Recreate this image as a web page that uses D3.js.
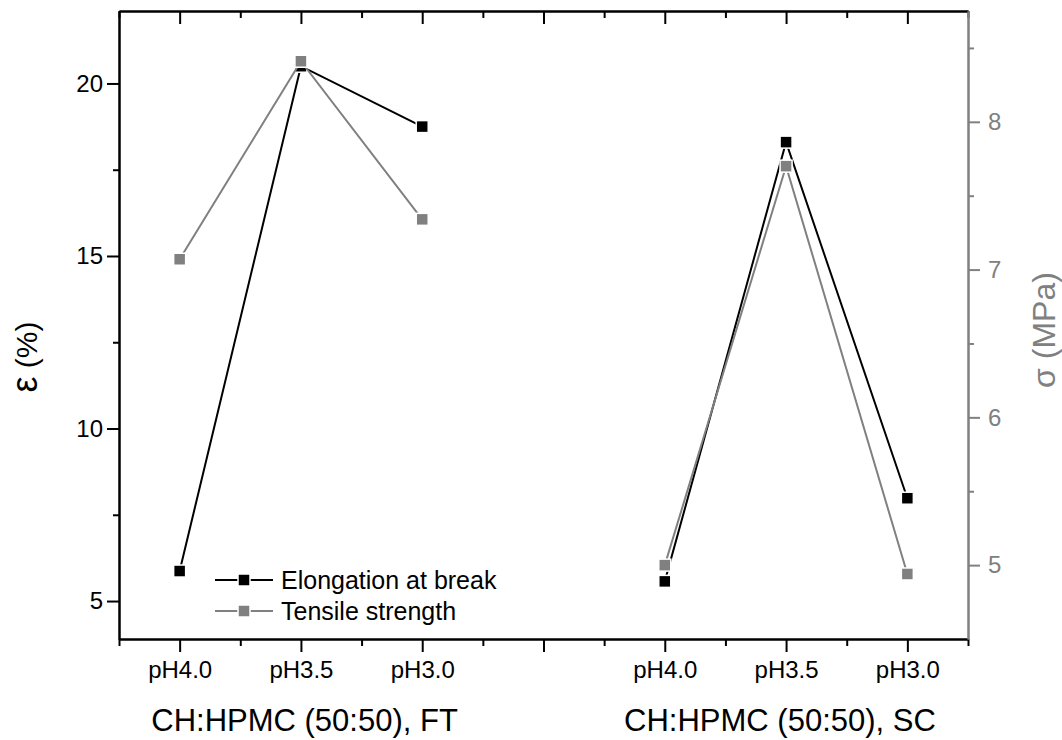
<!DOCTYPE html>
<html>
<head>
<meta charset="utf-8">
<script src="https://cdn.jsdelivr.net/npm/d3@7"></script>
<style>
  body { margin: 0; background: #fff; }
  svg text { font-family: "Liberation Sans", Arial, sans-serif; }
</style>
</head>
<body>
<div id="chart"></div>
<script>
// Data
const xPositions = [1, 2, 3, 5, 6, 7];
const phLabels = ["pH4.0", "pH3.5", "pH3.0", "pH4.0", "pH3.5", "pH3.0"];
const groupIds = ["FT", "FT", "FT", "SC", "SC", "SC"];
const groupTitles = ["CH:HPMC (50:50), FT", "CH:HPMC (50:50), SC"];
const groupCenters = [2.03, 5.95];
const elongation = [5.87, 20.5, 18.75, 5.57, 18.3, 7.98];   // ε (%)
const tensile = [7.07, 8.41, 7.34, 5.0, 7.70, 4.94];        // σ (MPa)
const leftTicks = [5, 10, 15, 20];
const leftMinor = [7.5, 12.5, 17.5];
const rightTicks = [5, 6, 7, 8];
const rightMinor = [5.5, 6.5, 7.5, 8.5];
const seriesNames = ["Elongation at break", "Tensile strength"];

const W = 1062, H = 740;
const margin = {top: 11, right: 94, bottom: 101, left: 119};
const width = W - margin.left - margin.right;
const height = H - margin.top - margin.bottom;

const black = "#000";
const gray = "#808080";

const svg = d3.select("#chart").append("svg")
    .attr("width", W)
    .attr("height", H);

const g = svg.append("g")
    .attr("transform", `translate(${margin.left},${margin.top})`);

// Scales
const x = d3.scaleLinear().domain([0.5, 7.5]).range([0, width]);
const yL = d3.scaleLinear().domain([3.9, 22.1]).range([height, 0]);
const yR = d3.scaleLinear().domain([4.5, 8.75]).range([height, 0]);

const majorX = d3.range(1, 8);
const minorX = d3.range(0.5, 8, 1);

function styleAxis(sel, color) {
    sel.select(".domain").attr("stroke", color).attr("stroke-width", 2);
    sel.selectAll(".tick line").attr("stroke", color).attr("stroke-width", 2);
    sel.selectAll(".tick text").attr("fill", color);
}

// Bottom axis (major + minor)
const labelOf = p => { const i = xPositions.indexOf(p); return i < 0 ? "" : phLabels[i]; };
g.append("g")
    .attr("transform", `translate(0,${height})`)
    .call(d3.axisBottom(x).tickValues(minorX).tickSize(7).tickFormat("").tickSizeOuter(0))
    .call(s => styleAxis(s, black));
g.append("g")
    .attr("transform", `translate(0,${height})`)
    .call(d3.axisBottom(x).tickValues(majorX).tickSize(13).tickPadding(9).tickFormat(labelOf).tickSizeOuter(0))
    .call(s => styleAxis(s, black))
    .call(s => s.selectAll(".tick text").attr("font-size", 24));

// Top axis (ticks point inward)
g.append("g")
    .call(d3.axisTop(x).tickValues(minorX).tickSize(-7).tickFormat("").tickSizeOuter(0))
    .call(s => styleAxis(s, black));
g.append("g")
    .call(d3.axisTop(x).tickValues(majorX).tickSize(-13).tickFormat("").tickSizeOuter(0))
    .call(s => styleAxis(s, black));

// Left axis
g.append("g")
    .call(d3.axisLeft(yL).tickValues(leftMinor).tickSize(6).tickFormat("").tickSizeOuter(0))
    .call(s => styleAxis(s, black));
g.append("g")
    .call(d3.axisLeft(yL).tickValues(leftTicks).tickSize(12).tickPadding(4).tickSizeOuter(0))
    .call(s => styleAxis(s, black))
    .call(s => s.selectAll(".tick text").attr("font-size", 24));

// Right axis (gray)
g.append("g")
    .attr("transform", `translate(${width},0)`)
    .call(d3.axisRight(yR).tickValues(rightMinor).tickSize(6).tickFormat("").tickSizeOuter(0))
    .call(s => styleAxis(s, gray));
g.append("g")
    .attr("transform", `translate(${width},0)`)
    .call(d3.axisRight(yR).tickValues(rightTicks).tickSize(12).tickPadding(8)
        .tickFormat(d3.format("d")).tickSizeOuter(0))
    .call(s => styleAxis(s, gray))
    .call(s => s.selectAll(".tick text").attr("font-size", 24));

// Group titles under the axis
groupTitles.forEach((t, i) => {
    g.append("text")
        .attr("x", x(groupCenters[i]))
        .attr("y", height + 92)
        .attr("text-anchor", "middle")
        .attr("font-size", 31)
        .attr("fill", black)
        .text(t);
});

// Axis titles
const leftTitle = svg.append("text")
    .attr("transform", "translate(37,357) rotate(-90)")
    .attr("text-anchor", "middle")
    .attr("font-size", 30)
    .attr("fill", black);
leftTitle.append("tspan").attr("font-size", 36).attr("font-weight", 300).text("ε");
leftTitle.append("tspan").text(" (%)");

svg.append("text")
    .attr("transform", "translate(1055,330) rotate(-90)")
    .attr("text-anchor", "middle")
    .attr("font-size", 32)
    .attr("fill", gray)
    .text("σ (MPa)");

// Series
const rows = xPositions.map((p, i) => ({pos: p, group: groupIds[i], e: elongation[i], s: tensile[i]}));
const groups = d3.group(rows, d => d.group);

const series = [
    {name: seriesNames[0], key: "e", y: yL, color: black},
    {name: seriesNames[1], key: "s", y: yR, color: gray}
];

const ms = 12;
series.forEach(sr => {
    const line = d3.line()
        .x(d => x(d.pos))
        .y(d => sr.y(d[sr.key]));
    for (const [, pts] of groups) {
        g.append("path")
            .datum(pts)
            .attr("fill", "none")
            .attr("stroke", sr.color)
            .attr("stroke-width", 2)
            .attr("d", line);
    }
    g.selectAll(null)
        .data(rows)
        .enter().append("rect")
          .attr("x", d => x(d.pos) - ms / 2)
          .attr("y", d => sr.y(d[sr.key]) - ms / 2)
          .attr("width", ms)
          .attr("height", ms)
          .attr("fill", sr.color)
          .attr("stroke", "#fff")
          .attr("stroke-width", 1.5);
});

// Legend
const legend = svg.append("g")
    .attr("transform", "translate(215,580)");

series.forEach((sr, i) => {
    const row = legend.append("g").attr("transform", `translate(0,${i * 31})`);
    row.append("line")
        .attr("x1", 0).attr("x2", 58)
        .attr("y1", 0).attr("y2", 0)
        .attr("stroke", sr.color)
        .attr("stroke-width", 2);
    row.append("rect")
        .attr("x", 29 - ms / 2).attr("y", -ms / 2)
        .attr("width", ms).attr("height", ms)
        .attr("fill", sr.color)
        .attr("stroke", "#fff")
        .attr("stroke-width", 1.5);
    row.append("text")
        .attr("x", 66)
        .attr("y", 0)
        .attr("dy", "0.35em")
        .attr("font-size", 25)
        .attr("fill", black)
        .text(sr.name);
});
</script>
</body>
</html>
